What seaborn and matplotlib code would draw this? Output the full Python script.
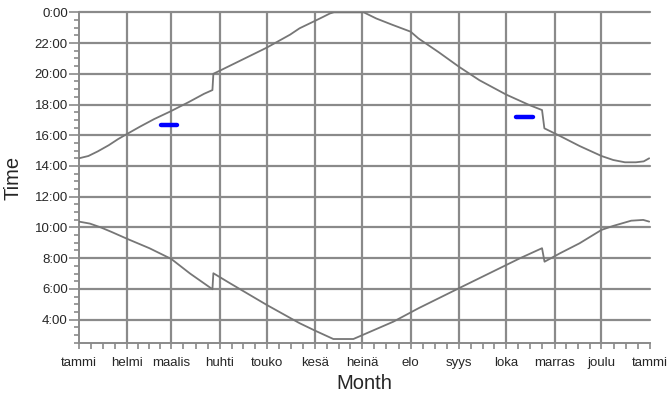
import matplotlib
matplotlib.use("Agg")
import matplotlib.pyplot as plt
from matplotlib.ticker import FixedLocator, FuncFormatter, MultipleLocator
import pandas as pd
import seaborn as sns

# Month boundaries (day of year) and their Finnish names
month_starts = [0, 31, 59, 90, 120, 151, 181, 212, 243, 273, 304, 334, 365]
month_names = ["tammi", "helmi", "maalis", "huhti", "touko", "kesä", "heinä",
               "elo", "syys", "loka", "marras", "joulu", "tammi"]

# Evening curve (hour of day, 24 = midnight)
sunset_day = [0, 6, 12, 19, 25, 31, 39, 48, 58, 70, 80, 85.3, 85.9, 91, 105,
              120, 135, 141, 151, 156, 160.5, 163, 182, 190, 200, 212, 217,
              230, 243, 256, 273, 288, 296, 297.5, 307.5, 320, 334, 341.5,
              349, 356, 361, 364.5]
sunset_hour = [14.5, 14.65, 14.95, 15.35, 15.75, 16.1, 16.56, 17.05, 17.53,
               18.15, 18.7, 18.94, 20.0, 20.25, 20.95, 21.7, 22.55, 22.96,
               23.45, 23.7, 23.93, 24.0, 24.0, 23.6, 23.2, 22.74, 22.3, 21.4,
               20.45, 19.58, 18.65, 17.96, 17.64, 16.45, 15.95, 15.3, 14.65,
               14.39, 14.24, 14.24, 14.3, 14.5]

# Morning curve
sunrise_day = [0, 7, 14, 21, 31, 45, 59, 71, 85.3, 85.9, 96.5, 120, 141, 151,
               162.6, 175.4, 184, 201, 217, 243, 269, 282, 296, 297.6, 307.5,
               320, 334, 341.5, 353, 360.7, 364.5]
sunrise_hour = [10.38, 10.25, 10.0, 9.7, 9.25, 8.65, 7.95, 7.0, 5.98, 7.02,
                6.37, 4.96, 3.77, 3.28, 2.74, 2.74, 3.12, 3.87, 4.74, 6.05,
                7.35, 8.0, 8.65, 7.77, 8.32, 8.97, 9.84, 10.1, 10.44, 10.49,
                10.38]

# Two short highlighted intervals
mark_a_day = [52.2, 62.4]
mark_a_hour = [16.69, 16.69]
mark_b_day = [279.4, 290.0]
mark_b_hour = [17.2, 17.2]

sns.set_theme(style="white")
plt.rcParams["font.family"] = ["Liberation Sans", "DejaVu Sans"]

curves = pd.concat([
    pd.DataFrame({"day": sunset_day, "hour": sunset_hour, "curve": "evening"}),
    pd.DataFrame({"day": sunrise_day, "hour": sunrise_hour, "curve": "morning"}),
])
marks = pd.concat([
    pd.DataFrame({"day": mark_a_day, "hour": mark_a_hour, "seg": "a"}),
    pd.DataFrame({"day": mark_b_day, "hour": mark_b_hour, "seg": "b"}),
])

fig = plt.figure(figsize=(6.7, 3.96), dpi=100)
ax = fig.add_axes([0.1179, 0.1346, 0.8522, 0.8343])

grid_col = "#8a8a8a"
line_col = "#767676"

sns.lineplot(data=curves, x="day", y="hour", units="curve", estimator=None,
             sort=False, color=line_col, linewidth=1.3, ax=ax, zorder=3)
sns.lineplot(data=marks, x="day", y="hour", units="seg", estimator=None,
             sort=False, color="#0000ff", linewidth=3.2, ax=ax, zorder=4)

ax.set_xlim(0, 365)
ax.set_ylim(2.5, 24)

# x axis: month ticks, minor ticks at quarter months
ax.xaxis.set_major_locator(FixedLocator(month_starts))
ax.set_xticklabels(month_names)
minor_x = []
for a, b in zip(month_starts[:-1], month_starts[1:]):
    minor_x += [a + (b - a) * k / 4 for k in (1, 2, 3)]
ax.xaxis.set_minor_locator(FixedLocator(minor_x))

# y axis: every two hours, minor ticks every half hour
ax.yaxis.set_major_locator(FixedLocator(list(range(4, 25, 2))))
ax.yaxis.set_major_formatter(FuncFormatter(lambda v, p: f"{int(round(v)) % 24}:00"))
ax.yaxis.set_minor_locator(MultipleLocator(0.5))

ax.tick_params(axis="x", which="both", direction="out", length=4.5, width=1.2,
               color=grid_col, labelsize=9.5, pad=5.5, bottom=True)
ax.tick_params(axis="y", which="major", direction="out", length=7, width=1.2,
               color=grid_col, labelsize=9.5, pad=1, left=True)
ax.tick_params(axis="y", which="minor", direction="out", length=3.5, width=1.2,
               color=grid_col, left=True)

ax.grid(True, which="major", color=grid_col, linewidth=1.6)
for gl in ax.get_ygridlines():
    gl.set_clip_on(False)
ax.get_xgridlines()[-1].set_visible(False)
ax.get_xgridlines()[0].set_visible(False)

for s in ("top", "right"):
    ax.spines[s].set_visible(False)
for s in ("left", "bottom"):
    ax.spines[s].set_color(grid_col)
    ax.spines[s].set_linewidth(1.4)

ax.set_xlabel("Month", fontsize=14.5, labelpad=4)
ax.set_ylabel("Time", fontsize=14.5, labelpad=9)

fig.savefig("out.png", dpi=100)
